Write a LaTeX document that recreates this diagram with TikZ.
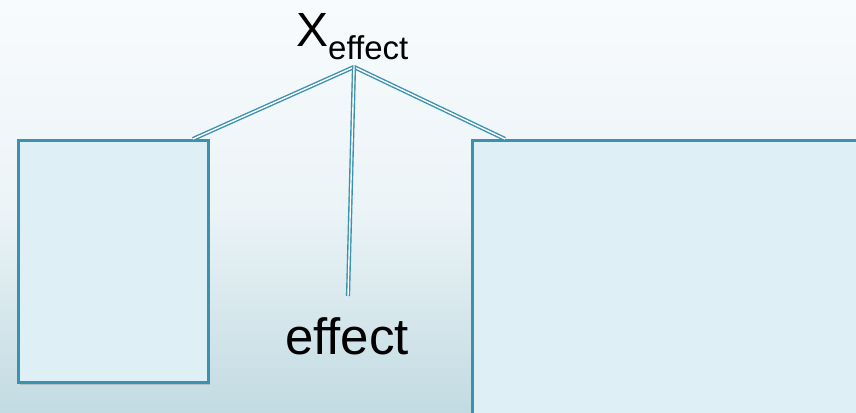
\documentclass[tikz,border=0pt]{standalone}
\usepackage{fontspec}
\setmainfont[Ligatures={NoCommon}]{Liberation Sans}
\usetikzlibrary{shadows}
\definecolor{edge}{RGB}{58,146,176}
\definecolor{boxfill}{RGB}{222,240,246}
\definecolor{bgtop}{RGB}{248,251,253}
\definecolor{bgmid}{RGB}{236,244,247}
\definecolor{bgbot}{RGB}{194,219,226}
\tikzset{
  panel/.style={draw=edge, line width=2.6pt, fill=boxfill, inner sep=0pt,
    drop shadow={shadow xshift=2pt, shadow yshift=-3pt, opacity=0.45, fill=gray!80}},
  link/.style={draw=edge, line width=1.4pt, double=white, double distance=1.4pt},
  lbl/.style={inner sep=0pt, text=black}
}
\begin{document}
\begin{tikzpicture}[x=1pt,y=-1pt]
\useasboundingbox (0,0) rectangle (856,412);
\clip (0,0) rectangle (856,412);
\shade[top color=bgtop, bottom color=bgbot, middle color=bgmid] (0,0) rectangle (856,412);
\node[panel, minimum width=190pt, minimum height=242pt, anchor=north west] (lbox) at (17,139) {};
\node[panel, minimum width=420pt, minimum height=300pt, anchor=north west] (rbox) at (471,139) {};
\coordinate (apex) at (354,67);
\coordinate (lend) at (193,139);
\coordinate (rend) at (505,139);
\coordinate (mend) at (348,296);
\draw[link] (apex) -- (lend);
\draw[link] (apex) -- (rend);
\draw[link] (apex) -- (mend);
\node[lbl, anchor=base west, font=\fontsize{48}{48}\selectfont] (xeff) at (296,47) {X\raisebox{-13pt}{\fontsize{33}{33}\selectfont effect}};
\node[lbl, anchor=base west, font=\fontsize{51}{51}\selectfont] (eff) at (285,354) {effect};
\end{tikzpicture}
\end{document}
